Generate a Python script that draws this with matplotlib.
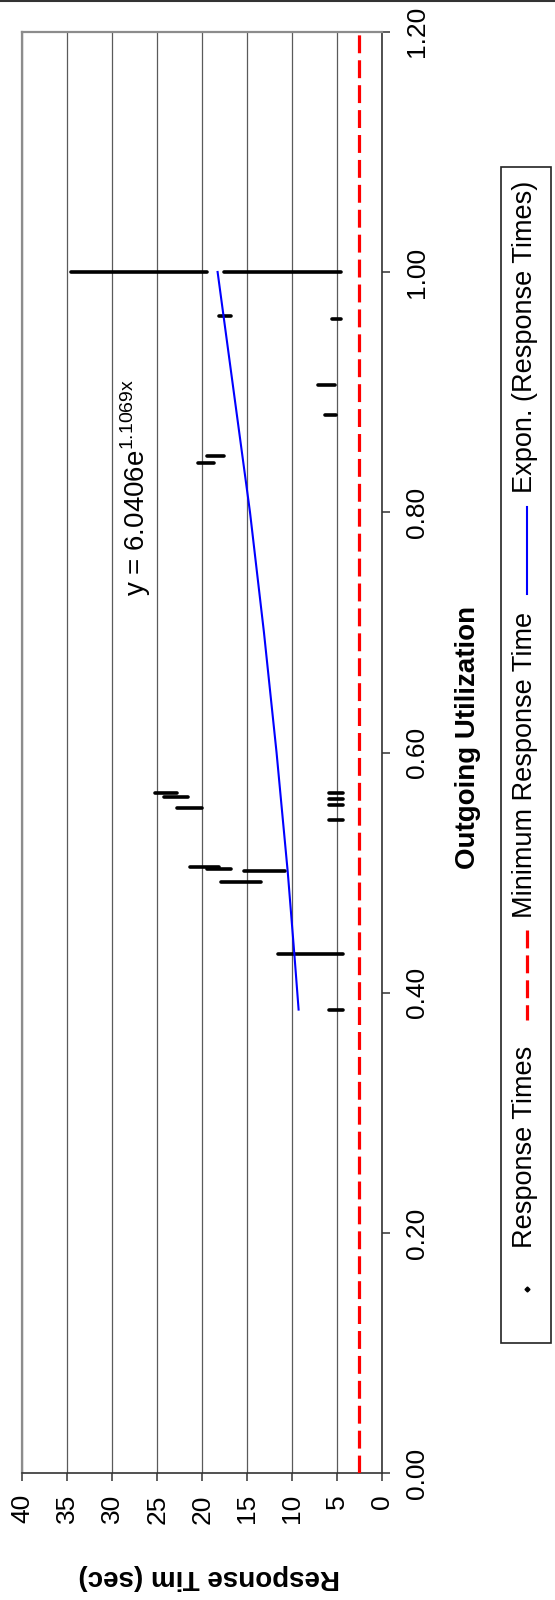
import matplotlib
matplotlib.use("Agg")
import matplotlib.pyplot as plt
import matplotlib.ticker as mticker
from matplotlib.lines import Line2D
from matplotlib.patches import Rectangle

plt.rcParams["font.family"] = ["Liberation Sans", "DejaVu Sans"]
plt.rcParams["mathtext.fontset"] = "custom"
plt.rcParams["mathtext.rm"] = "Liberation Sans"

# ── Data ─────────────────────────────────────────────────────────────────────
# Response-time clusters: utilization, lowest and highest response time (sec)
band_util = [1.000, 1.000, 0.963, 0.961, 0.906, 0.881, 0.847, 0.841,
             0.566, 0.563, 0.554, 0.566, 0.561, 0.556, 0.544,
             0.505, 0.503, 0.501, 0.492, 0.432, 0.386]
band_lo = [19.5, 4.6, 16.8, 4.6, 5.3, 5.1, 17.6, 18.7,
           22.8, 21.6, 20.0, 4.4, 4.4, 4.4, 4.4,
           18.2, 16.8, 10.8, 13.5, 4.4, 4.4]
band_hi = [34.6, 17.6, 18.15, 5.6, 7.1, 6.4, 19.5, 20.5,
           25.3, 24.3, 22.8, 5.9, 5.9, 5.9, 5.9,
           21.4, 19.5, 15.4, 17.9, 11.6, 5.9]

# Minimum response time
min_util = [0.0, 1.2]
min_resp = [2.56, 2.56]

# Exponential trend line
trend_util = [0.386, 0.43, 0.50, 0.60, 0.70, 0.80, 0.90, 1.00]
trend_resp = [9.3, 9.75, 10.5, 11.75, 13.15, 14.7, 16.5, 18.3]

resp_ticks = [0, 5, 10, 15, 20, 25, 30, 35, 40]
util_ticks = [0.0, 0.2, 0.4, 0.6, 0.8, 1.0, 1.2]

W, H = 555, 1600


def px(x, y):
    """pixel position (from top-left) -> figure fraction"""
    return x / W, 1 - y / H


RED_DASH = dict(color="#ff0000", lw=2.3, dashes=(5.6, 2.2))

fig = plt.figure(figsize=(W / 100, H / 100), dpi=100)
ax = fig.add_axes([22.3 / W, 1 - 1473.3 / H, 360 / W, 1441.6 / H])

# chart is laid out turned on its side: response time runs right-to-left
ax.set_xlim(40, 0)
ax.set_ylim(0, 1.2)
ax.set_xticks(resp_ticks)
ax.set_yticks(util_ticks)
ax.yaxis.tick_right()
ax.yaxis.set_major_formatter(mticker.FormatStrFormatter("%.2f"))
ax.tick_params(axis="x", direction="out", length=6, width=1.1, labelsize=19,
               labelrotation=90, pad=9, color="#333333")
ax.tick_params(axis="y", direction="out", length=6, width=1.1, labelsize=19,
               labelrotation=90, pad=10, color="#333333", right=True, left=False)
for lab in ax.get_yticklabels():
    lab.set_verticalalignment("center")

ax.grid(axis="x", color="#5a5a5a", lw=0.9)
ax.grid(axis="y", visible=False)
ax.set_axisbelow(True)
for side in ("top", "left"):
    ax.spines[side].set_color("#8c8c8c")
    ax.spines[side].set_linewidth(1.6)
for side in ("bottom", "right"):
    ax.spines[side].set_color("#333333")
    ax.spines[side].set_linewidth(1.2)

ax.plot(min_resp, min_util, **RED_DASH, zorder=3)

for u, lo, hi in zip(band_util, band_lo, band_hi):
    ax.plot([lo, hi], [u, u], color="black", lw=2.6,
            solid_capstyle="round", zorder=4)

ax.plot(trend_resp, trend_util, color="#0000ff", lw=1.5, zorder=5)

ax.text(26.4, 0.730, r"y = 6.0406e$^{\mathregular{1.1069x}}$", rotation=90,
        rotation_mode="anchor", ha="left", va="baseline", fontsize=20)

# axis titles
fig.text(*px(468, 737), "Outgoing Utilization", rotation=90, ha="center",
         va="center", fontsize=20, fontweight="bold")
fig.text(*px(209, 1577), "Response Tim (sec)", rotation=180, ha="center",
         va="center", fontsize=20, fontweight="bold")

# ── Legend (drawn by hand, rotated) ──────────────────────────────────────────
x0, y0 = px(500.7, 1343.3)
x1, y1 = px(550.7, 166.7)
fig.add_artist(Rectangle((x0, y0), x1 - x0, y1 - y0, transform=fig.transFigure,
                         fill=False, edgecolor="#222222", lw=1.2))
lx = 526.7
fig.add_artist(Line2D([px(lx, 0)[0]] * 2, [px(0, 507)[1], px(0, 594)[1]],
                      transform=fig.transFigure, color="#0000ff", lw=1.5))
fig.add_artist(Line2D([px(lx, 0)[0]] * 2, [px(0, 930)[1], px(0, 1020)[1]],
                      transform=fig.transFigure, **RED_DASH))
fig.add_artist(Line2D([px(lx, 0)[0]], [px(0, 1289)[1]], transform=fig.transFigure,
                      marker="D", markersize=2.5, color="black", lw=0))
for text, yc in [("Expon. (Response Times)", 337),
                 ("Minimum Response Time", 765),
                 ("Response Times", 1147)]:
    fig.text(*px(525, yc), text, rotation=90, ha="center", va="center",
             fontsize=19.5)

# outer chart border (top edge visible)
fig.add_artist(Line2D([0, 1], [px(0, 1)[1]] * 2, transform=fig.transFigure,
                      color="#333333", lw=1.5))

fig.savefig("out.png", dpi=100, facecolor="white")
